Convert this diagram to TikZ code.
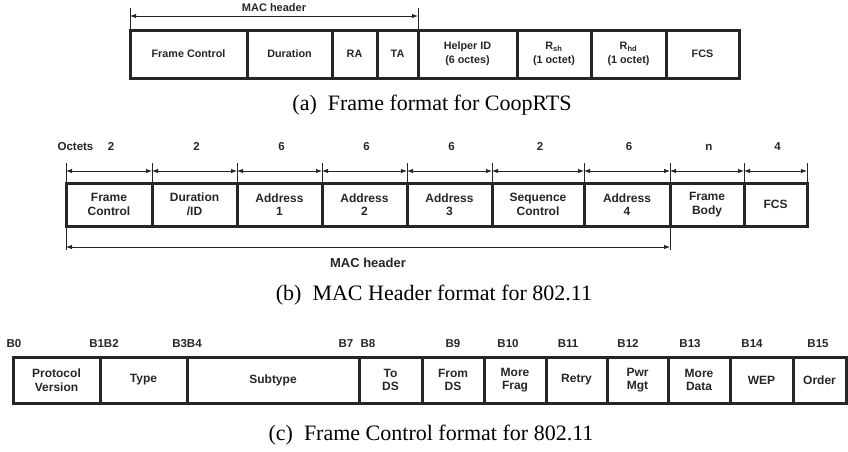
\documentclass[tikz,border=0pt]{standalone}
\usepackage{fontspec}
\setmainfont{Liberation Serif}
\setsansfont{Liberation Sans}
\usetikzlibrary{arrows.meta,calc,positioning}
\definecolor{ink}{HTML}{262626}
\tikzstyle{field}=[draw=ink,line width=3pt,inner sep=0pt,outer sep=0pt,align=center,text=ink,font=\sffamily\bfseries\fontsize{12}{13.5}\selectfont]
\tikzstyle{smallfield}=[field,font=\sffamily\bfseries\fontsize{10.8}{14}\selectfont]
\tikzstyle{tag}=[anchor=base,inner sep=0pt,text=ink,font=\sffamily\bfseries\fontsize{11.5}{13}\selectfont]
\tikzstyle{dim}=[draw=ink,line width=0.9pt]
\tikzstyle{span}=[dim,{Latex[length=6pt,width=4.5pt]}-{Latex[length=6pt,width=4.5pt]}]
\tikzstyle{subcap}=[anchor=base,inner sep=0pt,font=\fontsize{22}{26}\selectfont]

\begin{document}
\begin{tikzpicture}[x=1pt,y=-1pt]
  \useasboundingbox (0,0) rectangle (848,451);

  % (a) CoopRTS
  \foreach \r/\t [remember=\r as \l (initially 130),count=\i] in
    {247/Frame Control,332/Duration,377/RA,418/TA,517/{Helper ID\\(6 octes)},
     591/{R\textsubscript{sh}\\(1 octet)},666/{R\textsubscript{hd}\\(1 octet)},739/FCS}
    \node[smallfield,minimum width={(\r-\l)*1pt},minimum height=48pt] (a\i) at ({(\l+\r)/2},54) {\t};
  \draw[dim] (a1.north west) -- ++(0,-22);
  \draw[dim] (a4.north east) -- ++(0,-22);
  \draw[span] ($(a1.north west)+(0,-14)$) -- ($(a4.north east)+(0,-14)$);
  \node[tag,font=\sffamily\bfseries\fontsize{11}{13}\selectfont] (hdrA) at ($(a1.north west)!0.5!(a4.north east)+(0,-18.5)$) {MAC header};
  \node[subcap] (capA) at (432,110) {(a)\enspace Frame format for CoopRTS};

  % (b) MAC header
  \foreach \r/\t/\n [remember=\r as \l (initially 66),count=\i] in
    {152/{Frame\\Control}/2,237/{Duration\\/ID}/2,322/{Address\\1}/6,407/{Address\\2}/6,
     492/{Address\\3}/6,584/{Sequence\\Control}/2,670/{Address\\4}/6,744/{Frame\\Body}/n,807/FCS/4}
  {
    \node[field,minimum width={(\r-\l)*1pt},minimum height=43pt] (b\i) at ({(\l+\r)/2},204.5) {\t};
    \node[tag] (n\i) at ($(b\i.north)+(2,-33)$) {\n};
    \draw[dim] (b\i.north west) -- ++(0,-20);
    \draw[span] ($(b\i.north west)+(0,-12)$) -- ($(b\i.north east)+(0,-12)$);
  }
  \draw[dim] (b9.north east) -- ++(0,-20);
  \node[tag] (oct) at (75.5,150) {Octets};
  \draw[dim] (b1.south west) -- ++(0,24);
  \draw[dim] (b7.south east) -- ++(0,24);
  \draw[span] ($(b1.south west)+(0,21)$) -- ($(b7.south east)+(0,21)$);
  \node[tag,font=\sffamily\bfseries\fontsize{13}{15}\selectfont] (hdrB) at ($(b1.south west)!0.5!(b7.south east)+(0,41)$) {MAC header};
  \node[subcap] (capB) at (434,300) {(b)\enspace MAC Header format for 802.11};

  % (c) frame control
  \foreach \r/\t [remember=\r as \l (initially 13),count=\i] in
    {100/{Protocol\\Version},187/Type,359/Subtype,422/{To\\DS},484/{From\\DS},546/{More\\Frag},
     607/Retry,668/{Pwr\\Mgt},730/{More\\Data},793/WEP,846/Order}
    \node[field,minimum width={(\r-\l)*1pt},minimum height=46pt] (c\i) at ({(\l+\r)/2},380) {\t};
  \foreach \x/\b [count=\i] in
    {14/B0,104/B1B2,187/B3B4,346/B7,368/B8,453/B9,508/B10,568/B11,628/B12,690/B13,752/B14,818/B15}
    \node[tag] (bit\i) at (\x,347) {\b};
  \node[subcap] (capC) at (431,440) {(c)\enspace Frame Control format for 802.11};
\end{tikzpicture}
\end{document}
